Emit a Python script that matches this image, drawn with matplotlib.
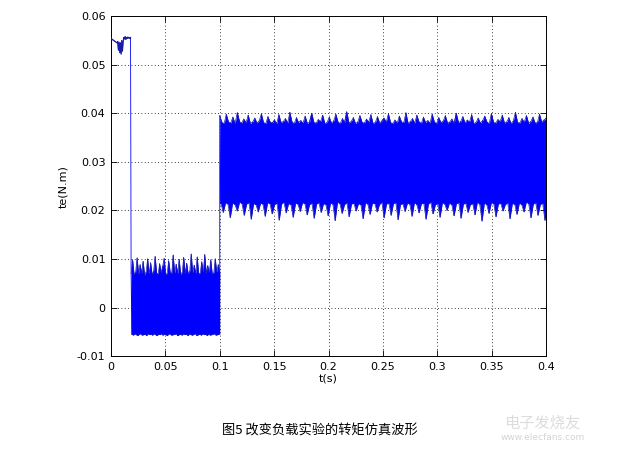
import numpy as np
import matplotlib
matplotlib.use("Agg")
import matplotlib.pyplot as plt

plt.rcParams['font.family'] = ['DejaVu Sans', 'Noto Sans CJK SC']

# ---- data (values in units of 0.0001 N.m) ----
# segment 1: start-up, t = 0 .. 0.018 s
seg1_t_range = (0.0, 0.018)
seg1_vals = [555, 553, 552, 551, 550, 549, 548, 547, 546, 545, 548, 530, 546, 525,
             545, 522, 550, 528, 548, 556, 553, 558, 552, 556, 554, 557, 555, 556, 554, 556]

# segment 2: light load, t = 0.0185 .. 0.1 s (alternating peaks / troughs)
seg2_t_range = (0.0185, 0.1)
seg2_peaks = [70, 98, 68, 72, 102, 69, 88, 71, 95, 67, 73, 100, 70, 92, 68, 74, 105, 71, 69, 90,
              72, 85, 101, 68, 70, 96, 73, 69, 108, 71, 89, 70, 99, 68, 72, 103, 70, 91, 69, 74,
              110, 72, 87, 70, 104, 69, 71, 94, 73, 109, 70, 86, 72, 98, 69, 71, 100, 73, 88, 72]
seg2_troughs = [-55, -57, -54, -56, -58, -55, -54, -57, -56, -55, -58, -54, -56, -55, -57, -54, -56, -58, -55, -56,
                -54, -57, -55, -56, -58, -54, -55, -57, -56, -55, -54, -58, -56, -55, -57, -54, -56, -55, -58, -54,
                -56, -57, -55, -54, -58, -56, -55, -57, -54, -56, -55, -58, -54, -57, -56, -55, -54, -57, -56, -55]

# segment 3: heavy load, t = 0.1 .. 0.4 s
seg3_t_range = (0.1, 0.4)
seg3_peaks = [395, 381, 379, 398, 382, 380, 392, 379, 401, 383, 380, 388, 381, 396, 379, 382, 390, 380, 384, 399,
              381, 379, 393, 382, 380, 386, 379, 397, 381, 383, 389, 380, 402, 382, 379, 391, 381, 385, 380, 394,
              379, 382, 400, 381, 380, 387, 383, 396, 379, 381, 392, 380, 384, 398, 382, 379, 389, 381, 403, 380,
              383, 391, 379, 382, 395, 381, 380, 388, 382, 397, 379, 381, 393, 380, 384, 390, 382, 399, 381, 379,
              386, 380, 394, 382, 381, 401, 379, 383, 389, 380, 396, 382, 379, 392, 381, 385, 380, 398, 382, 379,
              391, 381, 384, 395, 380, 382, 388, 379, 400, 381, 383, 393, 380, 386, 382, 397, 379, 381, 390, 380,
              385, 394, 382, 379, 399, 381, 380, 387, 383, 396, 380, 382, 391, 379, 384, 402, 381, 380, 389, 382,
              395, 379, 383, 392, 380, 381, 398, 382, 386, 390]
seg3_troughs = [214, 196, 216, 213, 185, 215, 212, 199, 217, 214, 190, 213, 216, 182, 214, 212, 197, 215, 213, 188,
                216, 214, 193, 212, 215, 180, 213, 217, 195, 214, 212, 186, 215, 213, 198, 216, 214, 191, 212, 215,
                184, 213, 216, 196, 214, 212, 189, 215, 213, 179, 217, 214, 194, 212, 216, 187, 213, 215, 199, 214,
                212, 183, 216, 213, 192, 215, 214, 197, 212, 217, 185, 213, 215, 190, 214, 216, 181, 212, 214, 198,
                215, 213, 188, 216, 212, 195, 214, 215, 182, 213, 217, 193, 212, 214, 186, 216, 213, 200, 215, 212,
                189, 214, 216, 184, 213, 215, 196, 212, 214, 191, 217, 213, 178, 215, 212, 194, 216, 214, 187, 213,
                215, 199, 212, 216, 183, 214, 213, 192, 215, 212, 197, 217, 214, 185, 213, 216, 190, 212, 215, 180]

x_ticks = [0, 0.05, 0.1, 0.15, 0.2, 0.25, 0.3, 0.35, 0.4]
x_tick_labels = ['0', '0.05', '0.1', '0.15', '0.2', '0.25', '0.3', '0.35', '0.4']
y_ticks = [-0.01, 0, 0.01, 0.02, 0.03, 0.04, 0.05, 0.06]
y_tick_labels = ['-0.01', '0', '0.01', '0.02', '0.03', '0.04', '0.05', '0.06']
x_label = 't(s)'
y_label = 'te(N.m)'
caption = '图5 改变负载实验的转矩仿真波形'

SCALE = 1e-4


def osc(t_range, peaks, troughs):
    t0, t1 = t_range
    tp = np.linspace(t0, t1, len(peaks))
    step = (t1 - t0) / max(len(troughs), 1)
    tt = np.linspace(t0 + step / 2, t1 - step / 2, len(troughs))
    pk = np.array(peaks, float) * SCALE
    tr = np.array(troughs, float) * SCALE
    t = np.concatenate([tp, tt])
    v = np.concatenate([pk, tr])
    o = np.argsort(t, kind='stable')
    return t[o], v[o], (tp, pk, tt, tr)


t1 = np.linspace(seg1_t_range[0], seg1_t_range[1], len(seg1_vals))
v1 = np.array(seg1_vals, float) * SCALE
t2, v2, env2 = osc(seg2_t_range, seg2_peaks, seg2_troughs)
t3, v3, env3 = osc(seg3_t_range, seg3_peaks, seg3_troughs)

t = np.concatenate([t1, t2, t3])
v = np.concatenate([v1, v2, v3])

fig = plt.figure(figsize=(6.27, 4.49), dpi=100)
ax = fig.add_axes([0.177, 0.207, 0.694, 0.757])

# dense oscillation rendered as a filled band between the peak and trough envelopes
for tp, pk, tt, tr in (env2, env3):
    tg = np.union1d(tp, tt)
    ax.fill_between(tg, np.interp(tg, tt, tr), np.interp(tg, tp, pk),
                    color='#0000ff', lw=0, zorder=2)
    ax.plot(tp, pk, color='#1a1aa8', lw=0.5, zorder=3)
    ax.plot(tt, tr, color='#1a1aa8', lw=0.5, zorder=3)

ax.plot(t, v, color='#0000ff', lw=0.6, zorder=2)
ax.plot(t1, v1, color='#1a1aa8', lw=0.8, zorder=3)

ax.set_xlim(0, 0.4)
ax.set_ylim(-0.01, 0.06)
ax.set_xticks(x_ticks)
ax.set_xticklabels(x_tick_labels)
ax.set_yticks(y_ticks)
ax.set_yticklabels(y_tick_labels)
ax.tick_params(direction='in', top=True, right=True, length=4, width=0.6,
               labelsize=8, colors='black', pad=4)
ax.grid(True, linestyle=(0, (1, 3)), color='black', lw=0.6)
for s in ax.spines.values():
    s.set_linewidth(0.7)
ax.set_xlabel(x_label, fontsize=8, labelpad=1)
ax.set_ylabel(y_label, fontsize=8, labelpad=6)

fig.text(0.51, 0.040, caption, ha='center', va='center', fontsize=9.5,
         family=['Noto Sans CJK SC', 'DejaVu Sans'])
fig.text(0.865, 0.058, '电子发烧友', ha='center', va='center', fontsize=11,
         color='#dcdcdc', family=['Noto Sans CJK SC', 'DejaVu Sans'], style='italic')
fig.text(0.865, 0.025, 'www.elecfans.com', ha='center', va='center', fontsize=6.5,
         color='#d4d4d4')

fig.savefig('out.png', dpi=100)
